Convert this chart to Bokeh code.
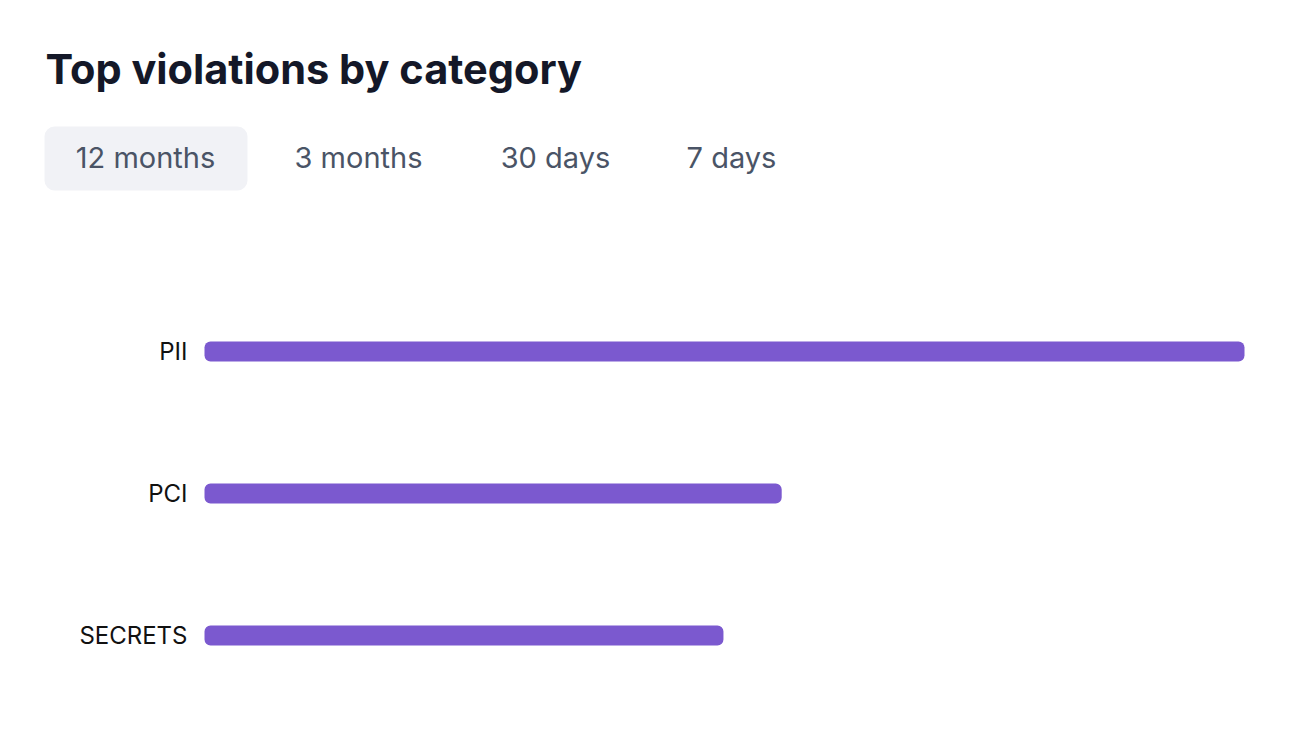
from bokeh.plotting import figure
from bokeh.models import Range1d, ColumnDataSource
from bokeh.core.properties import value
from bokeh.embed import file_html
from bokeh.resources import INLINE

# ---- data ----
title_text = "Top violations by category"
tab_labels = ["12 months", "3 months", "30 days", "7 days"]
selected_tab = "12 months"
categories = ["PII", "PCI", "SECRETS"]
violations = [100, 55.5, 49.9]

W, H = 1274, 732
XMAX = 100
BAR_LEFT_PX, BAR_RIGHT_PX = 204, 1244     # page pixels of value 0 and XMAX
ROW0_PX, ROW_STEP_PX = 351, 142           # page pixel of first row centre, row spacing

px_per_x = (BAR_RIGHT_PX - BAR_LEFT_PX) / XMAX

def dx(cx):
    return (cx - BAR_LEFT_PX) / px_per_x

def dy(cy):
    return (cy - ROW0_PX) / ROW_STEP_PX

p = figure(width=W, height=H,
           x_range=Range1d(dx(0), dx(W)), y_range=Range1d(dy(H), dy(0)),
           output_backend="svg", toolbar_location=None,
           x_axis_location=None, y_axis_location=None,
           min_border=0, min_border_left=0, min_border_right=0,
           min_border_top=0, min_border_bottom=0)
p.outline_line_color = None
p.xgrid.visible = False
p.ygrid.visible = False

rows = list(range(len(categories)))
src = ColumnDataSource(dict(cat=categories, row=rows, val=violations))

# bars
p.hbar(y="row", left=0, right="val", height=20 / ROW_STEP_PX, source=src,
       fill_color="#7b59cf", line_color=None, border_radius=6)

# category labels
p.text(x=0, y="row", text="cat", source=src, x_offset=-17,
       text_font=value("Inter"), text_font_size="24px", text_color="#111111",
       text_align="right", text_baseline="middle")

# title
p.text(x=[dx(45)], y=[dy(68)], text=[title_text], text_font=value("Inter"),
       text_font_style="bold", text_font_size="41.5px", text_color="#141828",
       text_align="left", text_baseline="alphabetic")

# tabs
sel = tab_labels.index(selected_tab)
p.quad(left=[dx(44)], right=[dx(247)], top=[dy(126)], bottom=[dy(190)],
       fill_color="#f1f2f6", line_color=None, border_radius=10)
tab_centers = [145, 358, 555, 731]
p.text(x=[dx(c) for c in tab_centers], y=[dy(157)] * len(tab_labels), text=tab_labels,
       text_font=value("Inter"), text_font_size="29px", text_color="#4a5466",
       text_align="center", text_baseline="alphabetic")

open("out.html", "w").write(file_html(p, INLINE))
